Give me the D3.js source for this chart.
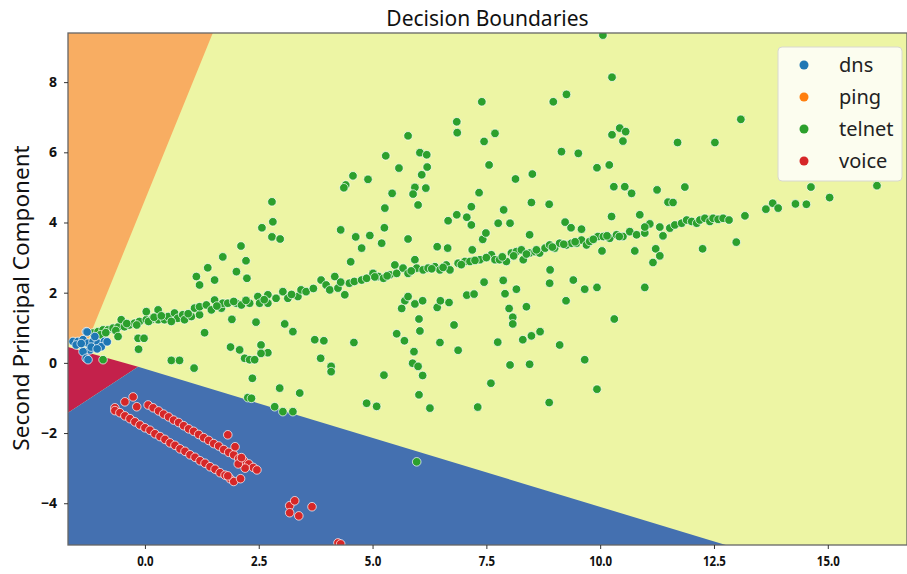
<!DOCTYPE html>
<html>
<head>
<meta charset="utf-8">
<script src="https://cdn.jsdelivr.net/npm/d3@7"></script>
<style>
  body { margin: 0; background: #fff; }
  svg { display: block; }
</style>
</head>
<body>
<div id="chart"></div>
<script>
const width = 907;
const height = 574;
const margin = { top: 33, right: 0, bottom: 29, left: 68 };

// axis ranges and ticks
const xDomain = [-1.69, 16.74];
const yDomain = [-5.19, 9.40];
const xTicks = [0, 2.5, 5, 7.5, 10, 12.5, 15];
const yTicks = [-4, -2, 0, 2, 4, 6, 8];

const classes = ["dns", "ping", "telnet", "voice"];
const pointColors = ["#1f77b4", "#ff7f0e", "#2ca02c", "#d62728"];
const regionColors = ["#c4214b", "#f8ad62", "#edf5a4", "#4470b0"];

// decision regions (data coordinates)
const telnetRegion = [[-1.69, 9.40], [16.74, 9.40], [16.74, -5.19], [-1.69, -5.19]];
const pingRegion = [[-1.69, 9.40], [1.49, 9.40], [-1.25, 0.65], [-1.69, 0.65]];
const dnsRegion = [[-1.69, 0.45], [-0.15, -0.11], [-1.69, -1.42]];
const voiceRegion = [[-1.69, -1.42], [-0.15, -0.11], [12.76, -5.19], [-1.69, -5.19]];

// points
const dnsPoints = [
  [-1.29, 0.89], [-1.58, 0.61], [-1.47, 0.61], [-1.36, 0.66], [-1.25, 0.56], [-1.14, 0.61],
  [-1.03, 0.56], [-0.89, 0.61], [-1.21, 0.37], [-1.36, 0.32], [-1.29, 0.13], [-1.10, 0.75],
  [-0.96, 0.46], [-1.51, 0.51], [-1.27, 0.88], [-0.83, 0.60], [-1.25, 0.09], [-1.40, 0.55],
  [-1.18, 0.45], [-1.05, 0.40]
];

const telnetPoints = [
  // upper left
  [4.57, 5.33], [4.41, 5.07], [4.37, 4.99], [2.79, 4.59], [2.81, 4.02], [2.57, 3.85], [2.79, 3.59],
  [2.97, 3.53], [4.30, 3.79], [4.63, 3.59], [2.11, 3.33], [1.71, 3.02], [2.22, 2.91], [1.38, 2.71],
  [4.52, 2.88],
  // band, left part
  [-1.14, 0.85], [-1.03, 0.89], [-0.92, 0.94], [-0.81, 0.94], [-0.70, 0.99], [-0.59, 1.02],
  [-0.52, 1.23], [-0.45, 1.03], [-0.34, 1.08], [-0.23, 1.13], [-0.12, 1.18], [0.03, 1.23],
  [0.03, 1.46], [0.14, 1.23], [0.29, 1.51], [0.29, 1.23], [0.43, 1.23], [0.51, 1.32], [0.65, 1.42],
  [0.72, 1.27], [0.83, 1.37], [0.87, 1.23], [1.02, 1.32], [1.09, 1.56], [1.20, 1.37], [1.20, 1.60],
  [1.35, 1.65], [1.46, 1.51], [1.53, 1.79], [1.68, 1.56], [1.71, 1.70], [1.82, 1.70], [2.01, 1.70],
  [2.12, 1.65], [2.30, 1.70], [2.48, 1.89], [2.52, 1.70], [2.70, 1.94], [2.70, 1.70], [2.88, 1.84],
  [3.03, 2.03], [3.14, 1.84], [3.36, 1.89], [3.43, 2.08], [3.54, 2.03], [3.87, 2.36], [3.98, 2.22],
  [4.06, 2.08], [4.17, 2.46], [4.24, 2.13], [4.39, 1.94], [4.49, 2.27], [4.60, 2.32],
  [-0.98, 0.80], [-0.86, 0.86], [-0.64, 0.92], [-0.40, 1.12], [-0.18, 1.08], [0.08, 1.18],
  [0.20, 1.30], [0.36, 1.34], [0.58, 1.18], [0.95, 1.40], [1.58, 1.62], [1.95, 1.75], [2.22, 1.78],
  [2.62, 1.80], [3.22, 1.95], [3.70, 2.12], [4.30, 2.30],
  [1.13, 2.46], [1.20, 2.22], [1.53, 2.36], [2.01, 2.60], [2.24, 2.41],
  // below band, left part
  [-0.59, 0.75], [-0.15, 0.70], [-0.02, 0.70], [-0.14, 0.39], [1.31, 0.86], [1.91, 1.24], [2.44, 1.16],
  [3.07, 1.11], [3.25, 0.89], [3.73, 0.66], [3.93, 0.63], [4.59, 0.58], [1.88, 0.45], [2.08, 0.37],
  [2.55, 0.51], [2.70, 0.29], [2.55, 0.27], [2.19, 0.13], [2.30, 0.09], [2.41, 0.09], [0.58, 0.07],
  [0.76, 0.07], [1.08, -0.15], [3.86, 0.13], [4.09, -0.10], [4.09, -0.25], [2.36, -0.44],
  [2.96, -0.72], [3.40, -0.86], [2.26, -0.99], [2.34, -1.01], [2.85, -1.25], [3.03, -1.39],
  [3.25, -1.39], [-0.92, 0.09], [5.97, -2.82],
  // upper middle
  [10.26, 8.14], [9.26, 7.65], [8.97, 7.44], [7.40, 7.44], [6.85, 6.87], [6.86, 6.56], [7.69, 6.54],
  [7.45, 6.31], [5.78, 6.47], [6.04, 5.99], [6.19, 5.93], [6.20, 5.58], [5.29, 5.90], [5.58, 5.55],
  [6.08, 5.36], [4.90, 5.23], [5.93, 5.00], [5.89, 4.81], [6.17, 4.98], [6.00, 4.50], [5.43, 4.83],
  [5.27, 4.41], [7.56, 5.64], [8.14, 5.24], [8.51, 5.38], [7.34, 4.85], [7.17, 4.45], [6.85, 4.22],
  [7.07, 4.15], [7.17, 3.93], [6.66, 4.05], [7.88, 4.36], [7.76, 3.98], [8.02, 3.98], [8.49, 4.57],
  [8.88, 4.52], [9.15, 6.02], [9.52, 5.97], [9.93, 5.56], [10.20, 5.64], [10.26, 6.50], [10.43, 6.69],
  [10.56, 6.59], [10.50, 6.32], [10.30, 5.02], [10.54, 5.02], [10.69, 4.83], [10.25, 4.17],
  [9.23, 4.01], [9.36, 3.85], [9.59, 3.81], [5.26, 3.85], [5.20, 3.41], [4.94, 3.63], [4.76, 3.27],
  [5.78, 3.53], [7.42, 3.52], [7.49, 3.70], [8.45, 3.65], [6.42, 3.31], [6.65, 3.27], [7.19, 3.22],
  [10.76, 3.19], [10.04, 3.19], [10.87, 4.22], [8.90, 2.65], [10.06, 9.34],
  // band, middle part
  [4.76, 2.36], [4.87, 2.41], [5.01, 2.55], [5.13, 2.46], [5.24, 2.41], [5.38, 2.51], [5.49, 2.79],
  [5.53, 2.55], [5.67, 2.70], [5.78, 2.55], [5.93, 2.94], [5.97, 2.70], [6.11, 2.65], [6.22, 2.70],
  [6.37, 2.74], [6.48, 2.65], [6.62, 2.79], [6.70, 2.65], [6.88, 2.84], [7.03, 2.89], [7.14, 2.89],
  [7.36, 2.94], [7.61, 3.08], [7.69, 2.94], [7.79, 2.94], [7.94, 2.89], [8.05, 3.13], [8.16, 3.17],
  [8.27, 3.22], [8.31, 2.94], [8.45, 3.13], [8.57, 3.17], [8.67, 3.13], [8.79, 3.27], [8.89, 3.36],
  [9.00, 3.27], [9.11, 3.41], [9.26, 3.36], [9.37, 3.41], [9.48, 3.41], [9.59, 3.50], [9.70, 3.36],
  [9.77, 3.46], [9.95, 3.60], [10.07, 3.60], [10.21, 3.55], [10.36, 3.65], [10.50, 3.60],
  [10.65, 3.74], [10.80, 3.65],
  [5.05, 2.45], [5.32, 2.48], [5.85, 2.62], [6.30, 2.68], [6.55, 2.72], [6.95, 2.80], [7.25, 2.92],
  [7.50, 3.00], [7.85, 3.02], [8.10, 3.05], [8.38, 3.10], [8.60, 3.22], [8.95, 3.30], [9.20, 3.38],
  [9.45, 3.45], [9.85, 3.52], [10.15, 3.62], [10.42, 3.60],
  // below band, middle part
  [7.45, 2.30], [7.87, 2.35], [8.89, 2.27], [9.41, 2.36], [9.66, 2.10], [9.93, 2.15], [7.91, 1.97],
  [8.16, 2.10], [7.07, 1.93], [7.23, 1.96], [5.71, 1.77], [5.78, 1.89], [5.64, 1.55], [5.93, 1.68],
  [6.10, 1.77], [6.42, 1.58], [6.49, 1.77], [6.68, 1.72], [8.00, 1.55], [8.38, 1.60], [9.25, 1.77],
  [8.08, 1.30], [8.08, 1.11], [6.02, 1.25], [6.04, 0.91], [6.79, 1.08], [10.31, 1.25], [5.53, 0.83],
  [5.70, 0.63], [6.48, 0.58], [6.88, 0.36], [5.91, 0.32], [7.75, 0.59], [8.30, 0.66], [8.49, 0.77],
  [8.68, 0.89], [9.11, 0.51], [5.88, -0.01], [6.00, -0.10], [6.10, -0.36], [5.25, -0.35],
  [8.02, -0.06], [8.45, -0.04], [9.66, 0.09], [7.60, -0.58], [9.93, -0.75], [6.02, -0.91],
  [4.87, -1.15], [5.09, -1.24], [6.26, -1.29], [7.31, -1.26], [8.88, -1.13],
  // right part
  [13.09, 6.94], [11.70, 6.28], [12.52, 6.28], [14.63, 5.01], [16.08, 5.05], [15.04, 4.71],
  [14.29, 4.53], [14.53, 4.52], [13.64, 4.38], [13.79, 4.55], [13.91, 4.41], [13.18, 4.19],
  [12.99, 3.44], [12.25, 3.25], [11.86, 5.01], [11.25, 4.93], [11.49, 4.58], [11.60, 4.57],
  [10.98, 3.70], [11.09, 3.96], [10.98, 3.87], [11.31, 3.87], [11.38, 3.62], [11.53, 3.84],
  [11.64, 3.93], [11.79, 3.98], [11.90, 4.07], [12.01, 4.03], [12.12, 3.98], [12.19, 4.07],
  [12.30, 4.12], [12.41, 4.03], [12.48, 4.12], [12.59, 4.09], [12.70, 4.12], [12.83, 4.07],
  [11.22, 3.25], [11.31, 3.05], [11.16, 2.86], [10.98, 2.15]
];

const voicePoints = [
  [-0.44, -1.11], [-0.26, -0.97], [-0.18, -1.25], [-0.66, -1.28],
  // upper strand
  [0.07, -1.20], [0.18, -1.28], [0.30, -1.37], [0.41, -1.46], [0.52, -1.54], [0.63, -1.63],
  [0.74, -1.70], [0.85, -1.79], [0.96, -1.88], [1.07, -1.95], [1.18, -2.04], [1.29, -2.13],
  [1.40, -2.21], [1.51, -2.30], [1.62, -2.37], [1.73, -2.47], [1.84, -2.55], [1.95, -2.62],
  [2.06, -2.73], [2.17, -2.79], [2.28, -2.88], [2.38, -2.98], [2.46, -3.05], [2.20, -3.00],
  [2.05, -2.88], [2.12, -2.70],
  // lower strand
  [-0.66, -1.36], [-0.55, -1.42], [-0.44, -1.51], [-0.33, -1.59], [-0.22, -1.68], [-0.11, -1.77],
  [0.00, -1.85], [0.11, -1.92], [0.22, -2.02], [0.33, -2.10], [0.44, -2.18], [0.55, -2.28],
  [0.66, -2.35], [0.77, -2.45], [0.88, -2.52], [0.99, -2.62], [1.10, -2.69], [1.21, -2.79],
  [1.32, -2.86], [1.43, -2.96], [1.54, -3.03], [1.65, -3.13], [1.76, -3.20], [1.87, -3.30],
  [1.95, -3.38], [2.10, -3.30], [1.82, -3.22],
  // stray
  [1.82, -2.05], [1.98, -2.39], [3.18, -4.07], [3.29, -3.93], [3.18, -4.27], [3.38, -4.36],
  [3.67, -4.10], [4.24, -5.13], [4.30, -5.16]
];

const svg = d3.select("#chart").append("svg")
  .attr("width", width)
  .attr("height", height);

const x = d3.scaleLinear().domain(xDomain).range([margin.left, width - margin.right]);
const y = d3.scaleLinear().domain(yDomain).range([height - margin.bottom, margin.top]);

svg.append("clipPath").attr("id", "plot-clip")
  .append("rect")
  .attr("x", margin.left).attr("y", margin.top)
  .attr("width", width - margin.left - margin.right)
  .attr("height", height - margin.top - margin.bottom);

const plot = svg.append("g").attr("clip-path", "url(#plot-clip)");

const poly = d3.line().x(d => x(d[0])).y(d => y(d[1]));
const regions = [
  { pts: telnetRegion, color: regionColors[2] },
  { pts: pingRegion, color: regionColors[1] },
  { pts: dnsRegion, color: regionColors[0] },
  { pts: voiceRegion, color: regionColors[3] }
];
plot.selectAll("path.region")
  .data(regions)
  .join("path")
  .attr("class", "region")
  .attr("d", d => poly(d.pts) + "Z")
  .attr("fill", d => d.color);

function drawPoints(data, color) {
  plot.append("g")
    .selectAll("circle")
    .data(data)
    .join("circle")
    .attr("cx", d => x(d[0]))
    .attr("cy", d => y(d[1]))
    .attr("r", 4.3)
    .attr("fill", color)
    .attr("stroke", "#fff")
    .attr("stroke-opacity", 0.7)
    .attr("stroke-width", 1);
}
drawPoints(telnetPoints, pointColors[2]);
drawPoints(dnsPoints, pointColors[0]);
drawPoints(voicePoints, pointColors[3]);

// frame
svg.append("rect")
  .attr("x", margin.left).attr("y", margin.top)
  .attr("width", width - margin.left - margin.right)
  .attr("height", height - margin.top - margin.bottom)
  .attr("fill", "none")
  .attr("stroke", "#666")
  .attr("stroke-width", 1.3);

// axes
const fmtX = d3.format(".1f");
const xAxis = svg.append("g")
  .attr("transform", `translate(0,${height - margin.bottom})`)
  .call(d3.axisBottom(x).tickValues(xTicks).tickFormat(fmtX).tickSize(4).tickPadding(7));
const yAxis = svg.append("g")
  .attr("transform", `translate(${margin.left},0)`)
  .call(d3.axisLeft(y).tickValues(yTicks).tickSize(4).tickPadding(7));

[xAxis, yAxis].forEach(ax => {
  ax.select(".domain").remove();
  ax.selectAll(".tick line").attr("stroke", "#333");
  ax.selectAll(".tick text")
    .attr("fill", "#111")
    .style("font-family", "'Noto Sans', sans-serif")
    .style("font-size", "14px")
    .style("font-weight", "bold");
});
xAxis.selectAll(".tick text").attr("transform", "scale(0.82,1)");

// title and axis label
svg.append("text")
  .attr("x", (margin.left + width - margin.right) / 2)
  .attr("y", 26)
  .attr("text-anchor", "middle")
  .style("font-family", "'Noto Sans', sans-serif")
  .style("font-size", "21px")
  .attr("fill", "#111")
  .text("Decision Boundaries");

svg.append("text")
  .attr("transform", "translate(29,298) rotate(-90)")
  .attr("text-anchor", "middle")
  .style("font-family", "'Noto Sans', sans-serif")
  .style("font-size", "22.5px")
  .attr("fill", "#111")
  .text("Second Principal Component");

// legend
const legend = svg.append("g").attr("transform", "translate(778,47)");
legend.append("rect")
  .attr("width", 124).attr("height", 134).attr("rx", 4)
  .attr("fill", "#fff").attr("fill-opacity", 0.82)
  .attr("stroke", "#d8d8d0");
const item = legend.selectAll("g.item")
  .data(classes)
  .join("g")
  .attr("class", "item")
  .attr("transform", (d, i) => `translate(0,${18 + i * 32})`);
item.append("circle")
  .attr("cx", 26).attr("r", 4.5)
  .attr("fill", (d, i) => pointColors[i]);
item.append("text")
  .attr("x", 61)
  .attr("dy", "0.35em")
  .style("font-family", "'Noto Sans', sans-serif")
  .style("font-size", "20px")
  .attr("fill", "#222")
  .text(d => d);
</script>
</body>
</html>
